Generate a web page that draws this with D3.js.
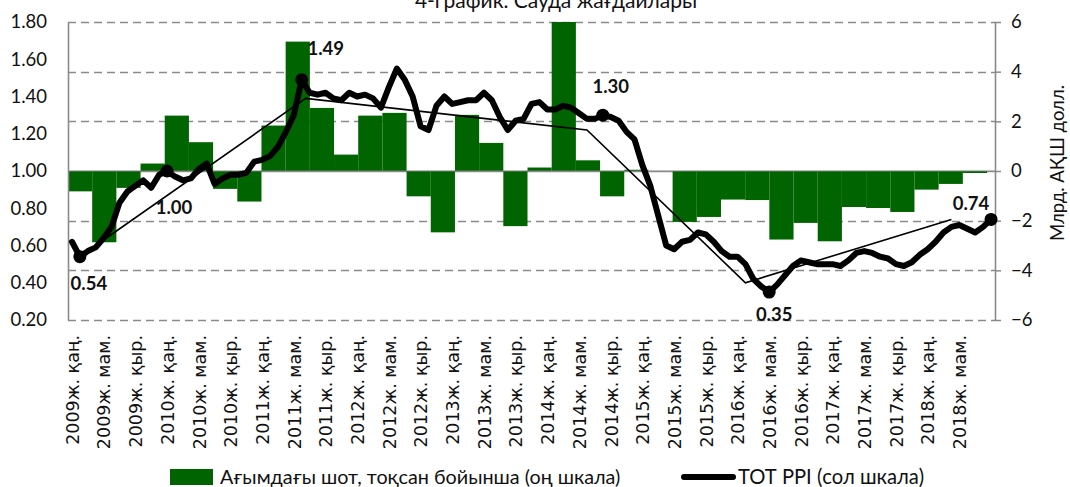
<!DOCTYPE html>
<html>
<head>
<meta charset="utf-8">
<script src="https://cdn.jsdelivr.net/npm/d3@7"></script>
<style>
  body { margin: 0; background: #fff; }
  svg { display: block; }
</style>
</head>
<body>
<svg id="chart" width="1070" height="487"></svg>
<script>
// ---- data ----
var titleText = "4-график. Сауда жағдайлары";
var rightAxisTitle = "Млрд. АҚШ долл.";
var legendBars = "Ағымдағы шот, тоқсан бойынша (оң шкала)";
var legendLine = "ТОТ PPI (сол шкала)";

// x tick labels, one every 4 months starting at Jan 2009
var tickLabels = [
  "2009ж. қаң.","2009ж. мам.","2009ж. қыр.",
  "2010ж. қаң.","2010ж. мам.","2010ж. қыр.",
  "2011ж. қаң.","2011ж. мам.","2011ж. қыр.",
  "2012ж. қаң.","2012ж. мам.","2012ж. қыр.",
  "2013ж. қаң.","2013ж. мам.","2013ж. қыр.",
  "2014ж. қаң.","2014ж. мам.","2014ж. қыр.",
  "2015ж. қаң.","2015ж. мам.","2015ж. қыр.",
  "2016ж. қаң.","2016ж. мам.","2016ж. қыр.",
  "2017ж. қаң.","2017ж. мам.","2017ж. қыр.",
  "2018ж. қаң.","2018ж. мам."
];

// TOT PPI, monthly Jan 2009 - Sep 2018 (left scale)
var totPpi = [
  0.62,0.54,0.57,0.59,0.64,0.70,0.83,0.89,0.92,0.95,0.91,0.98,
  1.00,0.97,0.95,0.96,1.01,1.04,0.93,0.96,0.98,0.98,0.99,1.05,
  1.06,1.08,1.13,1.21,1.30,1.49,1.42,1.41,1.42,1.39,1.38,1.42,
  1.40,1.41,1.39,1.34,1.45,1.55,1.49,1.40,1.24,1.22,1.35,1.40,
  1.36,1.37,1.38,1.38,1.42,1.38,1.29,1.22,1.27,1.28,1.36,1.37,
  1.33,1.33,1.35,1.34,1.31,1.28,1.28,1.30,1.29,1.27,1.21,1.17,
  1.03,0.92,0.76,0.60,0.58,0.62,0.63,0.67,0.66,0.62,0.57,0.54,
  0.54,0.50,0.42,0.38,0.35,0.39,0.44,0.49,0.52,0.51,0.50,0.50,
  0.50,0.49,0.52,0.56,0.57,0.56,0.54,0.53,0.50,0.49,0.51,0.55,
  0.58,0.62,0.67,0.70,0.71,0.69,0.67,0.70,0.74
];

// current account, quarterly 2009 Q1 - 2018 Q2 (right scale, bn USD)
var currentAccount = [
  -0.82,-2.87,-0.68, 0.30,
   2.23, 1.16,-0.72,-1.23,
   1.83, 5.21, 2.54, 0.66,
   2.23, 2.34,-1.02,-2.47,
   2.26, 1.13,-2.22, 0.14,
   6.00, 0.43,-1.02, 0.05,
   0.00,-2.05,-1.85,-1.15,
  -1.17,-2.76,-2.09,-2.83,
  -1.45,-1.49,-1.65,-0.75,
  -0.52,-0.08
];

// highlighted points: month index and printed value
var markIdx = [1, 12, 29, 67, 88, 116];
var markText = ["0.54", "1.00", "1.49", "1.30", "0.35", "0.74"];

// thin trend polyline (month index, value)
var trendIdx = [3, 29.5, 65, 85, 111];
var trendVal = [0.60, 1.39, 1.22, 0.40, 0.74];

// ---- layout ----
var margin = {top: 22, right: 75, bottom: 167, left: 68};
var W = 1070 - margin.left - margin.right;
var H = 487 - margin.top - margin.bottom;
var gridColor = "#8a8a8a";
var barColor = "#006400";
var textColor = "#111";
var calibriLike = "Lato, 'Open Sans', sans-serif";
var barAxisQuarters = 38.33;   // bar axis is a bit wider than 38 quarters
// label offsets (px) from the marked point to the label centre
var markOffset = [[9, 27], [7, 36], [24, -31], [8, -29], [5, 22], [-20, -16]];

var svg = d3.select("#chart");
var g = svg.append("g").attr("transform", "translate(" + margin.left + "," + margin.top + ")");

// scales
var xm = d3.scaleLinear().domain([-0.5, totPpi.length - 0.5]).range([0, W]);
var xq = d3.scaleLinear().domain([0, barAxisQuarters]).range([0, W]);
var yL = d3.scaleLinear().domain([0.2, 1.8]).range([H, 0]);
var yR = d3.scaleLinear().domain([-6, 6]).range([H, 0]);

// gridlines (right-scale ticks), dashed except the zero line
var rTicks = d3.range(-6, 7, 2);
g.append("g").attr("class", "grid")
  .selectAll("line")
  .data(rTicks)
  .enter()
  .append("line")
  .attr("x1", 0)
  .attr("x2", W)
  .attr("y1", function(d) { return Math.round(yR(d)) + 0.5; })
  .attr("y2", function(d) { return Math.round(yR(d)) + 0.5; })
  .style("stroke", gridColor)
  .style("stroke-width", 1.6)
  .style("stroke-dasharray", function(d) { return d === 0 ? null : "8,5"; });

// bars
g.append("g").attr("class", "bars")
  .selectAll("rect")
  .data(currentAccount)
  .enter()
  .append("rect")
  .attr("x", function(d, i) { return xq(i); })
  .attr("width", function(d, i) { return xq(i + 1) - xq(i); })
  .attr("y", function(d) { return yR(Math.max(0, d)); })
  .attr("height", function(d) { return Math.abs(yR(d) - yR(0)); })
  .style("fill", barColor);

// zero line redrawn on top of bars (thin)
g.append("line")
  .attr("x1", 0).attr("x2", W)
  .attr("y1", yR(0)).attr("y2", yR(0))
  .style("stroke", gridColor)
  .style("stroke-width", 1.2)
  .style("opacity", 0.8);

// axes
var leftAxis = g.append("g").attr("class", "axis-left")
  .call(d3.axisLeft(yL).tickValues(d3.range(0.2, 1.81, 0.2)).tickFormat(d3.format(".2f")).tickSize(0).tickPadding(21));
leftAxis.select(".domain").style("stroke", gridColor).style("stroke-width", 1.6);
leftAxis.selectAll("text")
  .style("font-family", calibriLike)
  .style("font-size", "18.5px")
  .style("fill", textColor);

var rightAxis = g.append("g").attr("class", "axis-right")
  .attr("transform", "translate(" + W + ",0)")
  .call(d3.axisRight(yR).tickValues(rTicks).tickSize(6).tickPadding(10).tickSizeOuter(0));
rightAxis.select(".domain").style("stroke", gridColor).style("stroke-width", 1.6);
rightAxis.selectAll(".tick line").style("stroke", gridColor).style("stroke-width", 1.5);
rightAxis.selectAll("text")
  .style("font-family", calibriLike)
  .style("font-size", "18.5px")
  .style("fill", textColor);

var tickIdx = tickLabels.map(function(d, i) { return i * 4; });
var bottomAxis = g.append("g").attr("class", "axis-bottom")
  .attr("transform", "translate(0," + H + ")")
  .call(d3.axisBottom(xm).tickValues(tickIdx).tickFormat(function(d) { return tickLabels[d / 4]; }).tickSize(0));
bottomAxis.select(".domain").remove();
bottomAxis.selectAll("text")
  .attr("transform", "rotate(-90)")
  .attr("x", -15)
  .attr("y", 0)
  .attr("dy", "0.36em")
  .style("text-anchor", "end")
  .style("font-family", "'DejaVu Sans', sans-serif")
  .style("font-size", "17.5px")
  .style("fill", textColor);

// trend polyline
var trendLine = d3.line()
  .x(function(d) { return xm(d[0]); })
  .y(function(d) { return yL(d[1]); });
g.append("path")
  .datum(trendIdx.map(function(d, i) { return [d, trendVal[i]]; }))
  .attr("d", trendLine)
  .style("fill", "none")
  .style("stroke", "#000")
  .style("stroke-width", 1.6);

// TOT PPI line
var ppiLine = d3.line()
  .x(function(d, i) { return xm(i); })
  .y(function(d) { return yL(d); });
g.append("path")
  .datum(totPpi)
  .attr("d", ppiLine)
  .style("fill", "none")
  .style("stroke", "#000")
  .style("stroke-width", 6)
  .style("stroke-linejoin", "round")
  .style("stroke-linecap", "round");

// markers and value labels
g.append("g").attr("class", "marks")
  .selectAll("circle")
  .data(markIdx)
  .enter()
  .append("circle")
  .attr("cx", function(d) { return xm(d); })
  .attr("cy", function(d) { return yL(totPpi[d]); })
  .attr("r", 6.5)
  .style("fill", "#000");

g.append("g").attr("class", "mark-labels")
  .selectAll("text")
  .data(markIdx)
  .enter()
  .append("text")
  .attr("x", function(d, i) { return xm(d) + markOffset[i][0]; })
  .attr("y", function(d, i) { return yL(totPpi[d]) + markOffset[i][1]; })
  .attr("dy", "0.36em")
  .attr("text-anchor", "middle")
  .text(function(d, i) { return markText[i]; })
  .style("font-family", calibriLike)
  .style("font-weight", "bold")
  .style("font-size", "18.5px")
  .style("fill", textColor);

// title (partly cut at the top as in the source)
svg.append("text")
  .attr("x", 556)
  .attr("y", 8)
  .attr("text-anchor", "middle")
  .text(titleText)
  .style("font-family", calibriLike)
  .style("font-size", "21px")
  .style("fill", textColor);

// right axis title
svg.append("text")
  .attr("transform", "translate(1057,163) rotate(-90)")
  .attr("dy", "0.36em")
  .attr("text-anchor", "middle")
  .text(rightAxisTitle)
  .style("font-family", calibriLike)
  .style("font-size", "18.5px")
  .style("fill", textColor);

// legend
var legend = svg.append("g").attr("class", "legend").attr("transform", "translate(0,477)");
legend.append("rect")
  .attr("x", 170).attr("y", -8)
  .attr("width", 43).attr("height", 16)
  .style("fill", barColor);
legend.append("text")
  .attr("x", 220).attr("y", 0).attr("dy", "0.36em")
  .text(legendBars)
  .style("font-family", calibriLike)
  .style("font-size", "19.8px")
  .style("fill", textColor);
legend.append("line")
  .attr("x1", 684).attr("x2", 733)
  .attr("y1", 0).attr("y2", 0)
  .style("stroke", "#000")
  .style("stroke-width", 6)
  .style("stroke-linecap", "round");
legend.append("text")
  .attr("x", 738).attr("y", 0).attr("dy", "0.36em")
  .text(legendLine)
  .style("font-family", calibriLike)
  .style("font-size", "20.2px")
  .style("fill", textColor);
</script>
</body>
</html>
